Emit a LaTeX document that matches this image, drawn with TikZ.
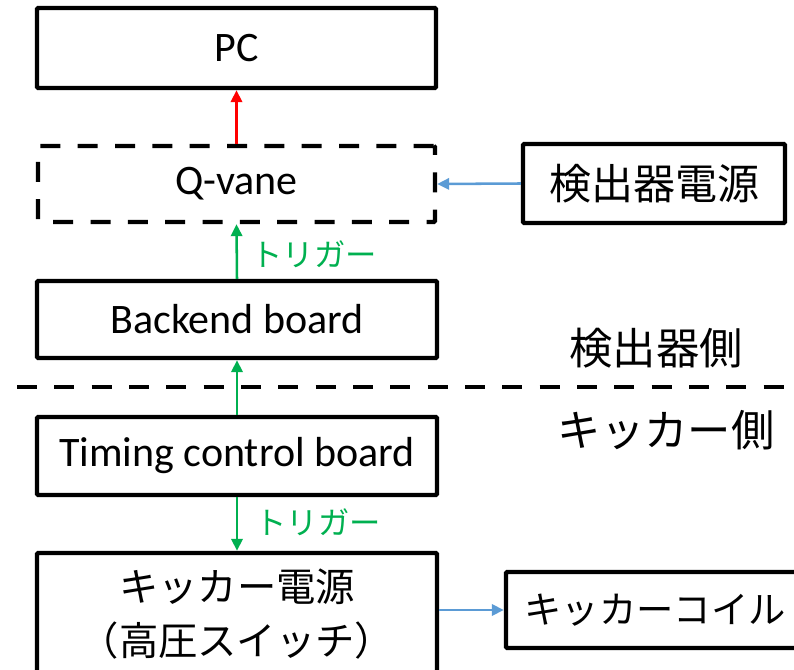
\documentclass[tikz,border=0pt]{standalone}
\usepackage{fontspec}
\setmainfont{Carlito}
\newfontfamily\jp{Noto Sans CJK JP}
\usetikzlibrary{arrows.meta}
\definecolor{ogreen}{RGB}{0,176,80}
\definecolor{oblue}{RGB}{91,155,213}
\tikzset{
  box/.style={draw=black, line width=3.3pt, rounded corners=1pt, inner sep=0pt, align=center, font=\fontsize{31.5}{36}\selectfont},
  dbox/.style={box, dash pattern=on 15pt off 13pt},
  arr/.style={line width=1.9pt, -{Triangle[length=9pt,width=8.5pt]}},
  redarr/.style={arr, draw=red},
  greenarr/.style={arr, draw=ogreen},
  bluearr/.style={arr, draw=oblue},
  trig/.style={text=ogreen, font=\jp\fontsize{23.5}{26}\selectfont, inner sep=0pt},
  side/.style={font=\jp\fontsize{32.5}{38}\selectfont, inner sep=0pt},
  sep/.style={line width=3.3pt, dash pattern=on 15pt off 13pt}
}
\begin{document}
\begin{tikzpicture}[x=0.75pt,y=-0.75pt]
\useasboundingbox (0,0) rectangle (794,670);
\clip (0,0) rectangle (794,670);
\node[box, minimum width=299.25pt, minimum height=60pt] (pc) at (236.5,48) {PC};
\node[dbox, minimum width=297.75pt, minimum height=57pt] (qv) at (236.5,184) {Q-vane};
\node[box, minimum width=196.5pt, minimum height=59.25pt, font=\jp\fontsize{31.5}{36}\selectfont] (det) at (654,183.5) {検出器電源};
\node[box, minimum width=300pt, minimum height=57.75pt] (be) at (237,319.5) {Backend board};
\node[box, minimum width=300pt, minimum height=58.5pt] (tc) at (237,456) {Timing control board};
\node[box, minimum width=300pt, minimum height=91.5pt, font=\jp\fontsize{29.5}{40}\selectfont] (kp) at (237,614) {キッカー電源\\（高圧スイッチ）};
\node[box, minimum width=223.5pt, minimum height=57pt, font=\jp\fontsize{28}{36}\selectfont] (kc) at (655,610) {キッカーコイル};
\node[side] (ls1) at (656,348) {検出器側};
\node[side] (ls2) at (666,430) {キッカー側};
\coordinate (dl) at (17,387);
\coordinate (dr) at (800,387);
\draw[sep] (dl) -- (dr);
\draw[redarr] (qv.north) -- (pc.south);
\draw[bluearr] (det.west) -- (qv.east);
\draw[greenarr] (be.north) -- (qv.south);
\draw[greenarr] (tc.north) -- (be.south);
\draw[greenarr] (tc.south) -- (kp.north);
\draw[bluearr] (kp.east |- kc.west) -- (kc.west);
\node[trig] (t1) at (314,254) {トリガー};
\node[trig] (t2) at (318,522) {トリガー};
\end{tikzpicture}
\end{document}
